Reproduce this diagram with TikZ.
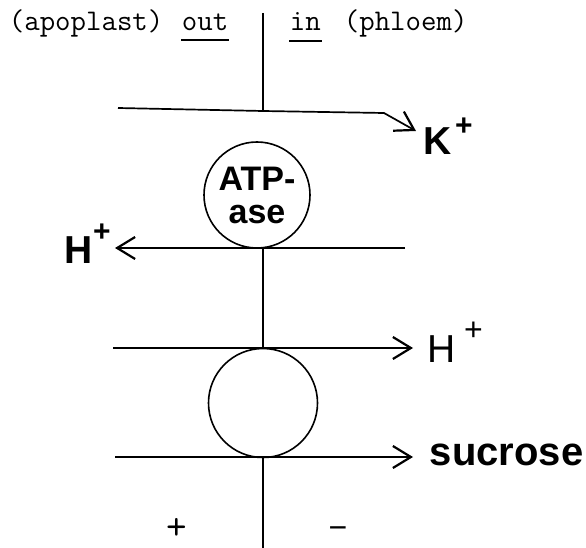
\documentclass[tikz,border=0pt]{standalone}
\usepackage{fontspec}
\setmainfont{Liberation Sans}
\newfontfamily\monofam{Liberation Mono}
\usetikzlibrary{arrows.meta}
\begin{document}
\begin{tikzpicture}[x=1pt,y=-1pt,line width=1.7pt,
  barb/.style={-{Straight Barb[length=18pt,width=22pt,line width=2.2pt]}},
  ion/.style={font=\fontsize{39}{40}\selectfont\bfseries,inner sep=0pt,anchor=base west},
  ionreg/.style={font=\fontsize{39}{40}\selectfont,inner sep=0pt,anchor=base west},
  toplabel/.style={font=\ttfamily\fontsize{30}{30}\selectfont,inner sep=0pt,anchor=base west},
  pore/.style={circle,draw,line width=1.6pt,inner sep=0pt},
  sign/.style={inner sep=0pt,text height=9pt,text depth=0pt},
  uline/.style={line width=1.2pt}]
\useasboundingbox (0,0) rectangle (586,548);
% top labels
\node[toplabel] (apo) at (8,31) {(apoplast)};
\node[toplabel] (out) at (181,31) {out};
\node[toplabel] (in) at (289,31) {in};
\node[toplabel] (phl) at (343,31) {(phloem)};
\draw[uline] ([yshift=-9pt]out.base west) -- ([yshift=-9pt]out.base east);
\draw[uline] ([yshift=-10pt]in.base west) -- ([yshift=-10pt]in.base east);
% membrane coordinates
\coordinate (mTop) at (263,13);
\coordinate (kL) at (118,108);
\coordinate (kM) at (263,111);
\coordinate (kB) at (384,113);
\coordinate (kT) at (416,131);
\coordinate (h1R) at (405,248);
\coordinate (h1L) at (115,248);
\coordinate (m2T) at (263,248);
\coordinate (m2B) at (263,348);
\coordinate (h2L) at (113,348);
\coordinate (h2R) at (413,348);
\coordinate (sL) at (115,457);
\coordinate (sR) at (413,457);
\coordinate (m3T) at (263,457);
\coordinate (mBot) at (263,548);
% pores
\node[pore,minimum size=106pt,font=\fontsize{34}{33}\selectfont\bfseries,align=center] (atp) at (257,195) {ATP-\\ase};
\node[pore,minimum size=109pt] (sym) at (263,403) {};
% membrane
\draw (mTop) -- (kM);
\draw (m2T) -- (m2B);
\draw (m3T) -- (mBot);
% arrows
\draw[barb] (kL) -- (kM) -- (kB) -- (kT);
\draw[barb] (h1R) -- (h1L);
\draw[barb] (h2L) -- (h2R);
\draw[barb] (sL) -- (sR);
% ion labels
\node[ion] (kion) at (423,155) {K\hspace{3pt}\raisebox{19pt}{\fontsize{30}{30}\selectfont +}};
\node[ion] (hleft) at (64,263) {H\raisebox{22pt}{\fontsize{30}{30}\selectfont +}};
\node[ionreg] (hright) at (427,362) {H\hspace{8pt}\raisebox{22pt}{\fontsize{32}{32}\selectfont +}};
\node[font=\fontsize{40}{40}\selectfont\bfseries,inner sep=0pt,anchor=base west] (suc) at (429,465) {sucrose};
% potential signs
\node[sign,font=\ttfamily\fontsize{40}{40}\selectfont] (plus) at (177,535) {+};
\node[sign,font=\monofam\fontsize{32}{32}\selectfont] (minus) at (338,534) {−};
\end{tikzpicture}
\end{document}
